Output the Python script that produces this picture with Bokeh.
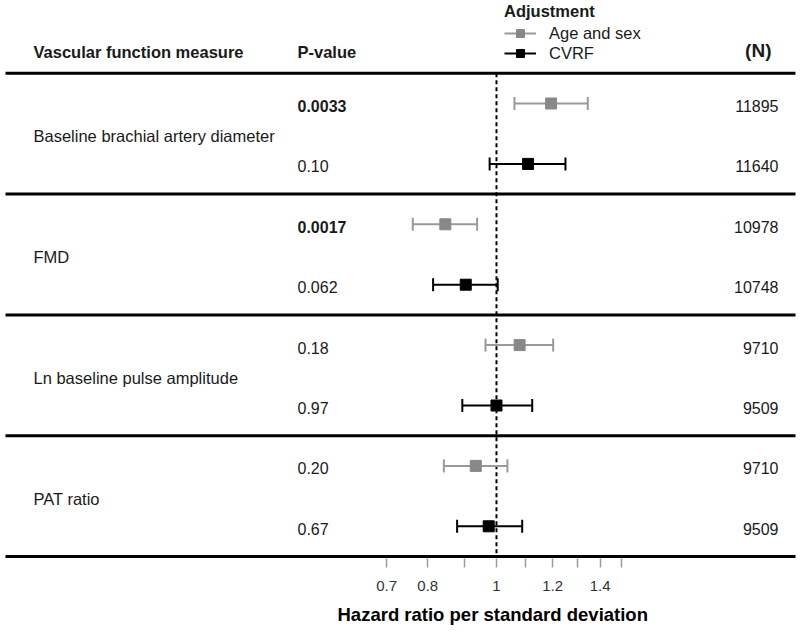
import math
from bokeh.plotting import figure
from bokeh.models import (ColumnDataSource, Range1d, FixedTicker, Whisker, TeeHead,
                          Legend, LegendItem, Title)
from bokeh.core.properties import value
from bokeh.embed import file_html
from bokeh.resources import INLINE

# ---------------- data ----------------
measures = ["Baseline brachial artery diameter", "FMD",
            "Ln baseline pulse amplitude", "PAT ratio"]
adjustments = ["Age and sex", "CVRF"]

hr_age_sex = [1.194, 0.847, 1.078, 0.935]
lo_age_sex = [1.060, 0.762, 0.965, 0.843]
hi_age_sex = [1.345, 0.939, 1.202, 1.036]
p_age_sex = ["0.0033", "0.0017", "0.18", "0.20"]
n_age_sex = [11895, 10978, 9710, 9710]

hr_cvrf = [1.108, 0.905, 1.000, 0.975]
lo_cvrf = [0.978, 0.814, 0.895, 0.880]
hi_cvrf = [1.251, 1.004, 1.123, 1.087]
p_cvrf = ["0.10", "0.062", "0.97", "0.67"]
n_cvrf = [11640, 10748, 9509, 9509]

x_ticks_major = [0.7, 0.8, 1, 1.2, 1.4]
x_ticks_minor = [0.9, 1.1, 1.3, 1.5]
reference_hr = 1

headers = ["Vascular function measure", "P-value"]
n_header = "(N)"
x_title = "Hazard ratio per standard deviation"

# ---------------- layout ----------------
FONT_NAME = "Liberation Sans"
FONT = value(FONT_NAME)
TXT = "#1a1a1a"
GRAY_LINE = "#9a9a9a"
GRAY_FILL = "#888888"
FRAME_W, FRAME_H = 800, 558
X_START, X_END = 0.19983, 2.6832
Y_TOP, Y_BOTTOM = -1.7053, 7.533
TEXT_DY = 0.04


def sx(px):
    """page pixel -> data x on the log scale (frame starts at page x=0)"""
    return X_START * (X_END / X_START) ** (px / FRAME_W)


ng = len(measures)
y_age = [2 * i for i in range(ng)]
y_cvrf = [2 * i + 1 for i in range(ng)]

p = figure(frame_width=FRAME_W, frame_height=FRAME_H, x_axis_type="log",
           x_range=Range1d(X_START, X_END), y_range=Range1d(Y_BOTTOM, Y_TOP),
           y_axis_location=None, toolbar_location=None, output_backend="svg",
           min_border_left=0, min_border_right=0, min_border_top=0,
           min_border_bottom=74, outline_line_color=None,
           background_fill_color="white", border_fill_color="white")
p.grid.grid_line_color = None

# separators
seps = [-0.5] + [2 * i + 1.5 for i in range(ng)]
p.segment(x0=[sx(5)] * len(seps), x1=[sx(795)] * len(seps), y0=seps, y1=seps,
          line_color="black", line_width=3)

# reference line
p.segment(x0=[reference_hr], x1=[reference_hr], y0=[seps[0]], y1=[seps[-1]],
          line_color="black", line_width=2, line_dash="4 3")

src_age = ColumnDataSource(dict(y=y_age, hr=hr_age_sex, lo=lo_age_sex, hi=hi_age_sex))
src_cv = ColumnDataSource(dict(y=y_cvrf, hr=hr_cvrf, lo=lo_cvrf, hi=hi_cvrf))

seg_age = p.segment(x0="lo", x1="hi", y0="y", y1="y", source=src_age,
                    line_color=GRAY_LINE, line_width=2)
seg_cv = p.segment(x0="lo", x1="hi", y0="y", y1="y", source=src_cv,
                   line_color="black", line_width=2)
for src, col in ((src_age, GRAY_LINE), (src_cv, "black")):
    w = Whisker(source=src, base="y", lower="lo", upper="hi", dimension="width",
                line_alpha=0,
                lower_head=TeeHead(size=13, line_color=col, line_width=2),
                upper_head=TeeHead(size=13, line_color=col, line_width=2))
    p.add_layout(w)
sq_age = p.scatter(x="hr", y="y", source=src_age, marker="square", size=11,
                   fill_color=GRAY_FILL, line_color=GRAY_FILL)
sq_cv = p.scatter(x="hr", y="y", source=src_cv, marker="square", size=11,
                  fill_color="black", line_color="black")

# headers
p.text(x=[sx(33), sx(297)], y=[-0.85, -0.85], text=headers, text_font=FONT,
       text_font_size="16.5px", text_font_style="bold", text_color=TXT,
       text_baseline="middle", text_align="left")
p.text(x=[sx(771)], y=[-0.88], text=[n_header], text_font=FONT,
       text_font_size="19px", text_font_style="bold", text_color=TXT,
       text_baseline="middle", text_align="right")

# measure labels
p.text(x=[sx(33)] * ng, y=[2 * i + 0.5 + TEXT_DY for i in range(ng)], text=measures,
       text_font=FONT, text_font_size="16.5px", text_color=TXT,
       text_baseline="middle", text_align="left")

# p-values and N
for ys, pv, nv in ((y_age, p_age_sex, n_age_sex), (y_cvrf, p_cvrf, n_cvrf)):
    styles = ["bold" if float(v) < 0.05 else "normal" for v in pv]
    ps = ColumnDataSource(dict(x=[sx(297)] * ng, y=[v + TEXT_DY for v in ys],
                               t=pv, s=styles))
    p.text(x="x", y="y", text="t", source=ps, text_font=FONT, text_font_size="16px",
           text_font_style="s", text_color=TXT, text_baseline="middle",
           text_align="left")
    p.text(x=[sx(778)] * ng, y=[v + TEXT_DY for v in ys], text=[str(n) for n in nv],
           text_font=FONT, text_font_size="16px", text_color=TXT,
           text_baseline="middle", text_align="right")

# legend
legend = Legend(items=[LegendItem(label=adjustments[0], renderers=[seg_age, sq_age]),
                       LegendItem(label=adjustments[1], renderers=[seg_cv, sq_cv])],
                title="Adjustment", location=(504, 495), margin=0, padding=0,
                spacing=0, glyph_width=32, glyph_height=20, label_standoff=13,
                title_standoff=2, border_line_color=None, background_fill_alpha=0,
                title_text_font=FONT_NAME, title_text_font_size="16.5px",
                title_text_font_style="bold", title_text_color=TXT,
                label_text_font=FONT_NAME, label_text_font_size="16.5px",
                label_text_color=TXT)
p.add_layout(legend)

# x axis
ax = p.xaxis[0]
ax.ticker = FixedTicker(ticks=x_ticks_major, minor_ticks=x_ticks_minor)
ax.major_label_overrides = {t: f"{t:g}" for t in x_ticks_major}
ax.axis_line_color = None
ax.major_tick_in = 0
ax.major_tick_out = 9
ax.minor_tick_in = 0
ax.minor_tick_out = 9
ax.major_tick_line_color = "#9a9a9a"
ax.minor_tick_line_color = "#9a9a9a"
ax.major_tick_line_width = 1.5
ax.minor_tick_line_width = 1.5
ax.major_label_standoff = 13
ax.major_label_text_font = FONT_NAME
ax.major_label_text_font_size = "15px"
ax.major_label_text_color = "#333333"

p.add_layout(Title(text=x_title, align="left", offset=337, standoff=17,
                   text_font=FONT_NAME, text_font_size="18.5px",
                   text_font_style="bold", text_color="black"), "below")

open("out.html", "w").write(file_html(p, INLINE))
